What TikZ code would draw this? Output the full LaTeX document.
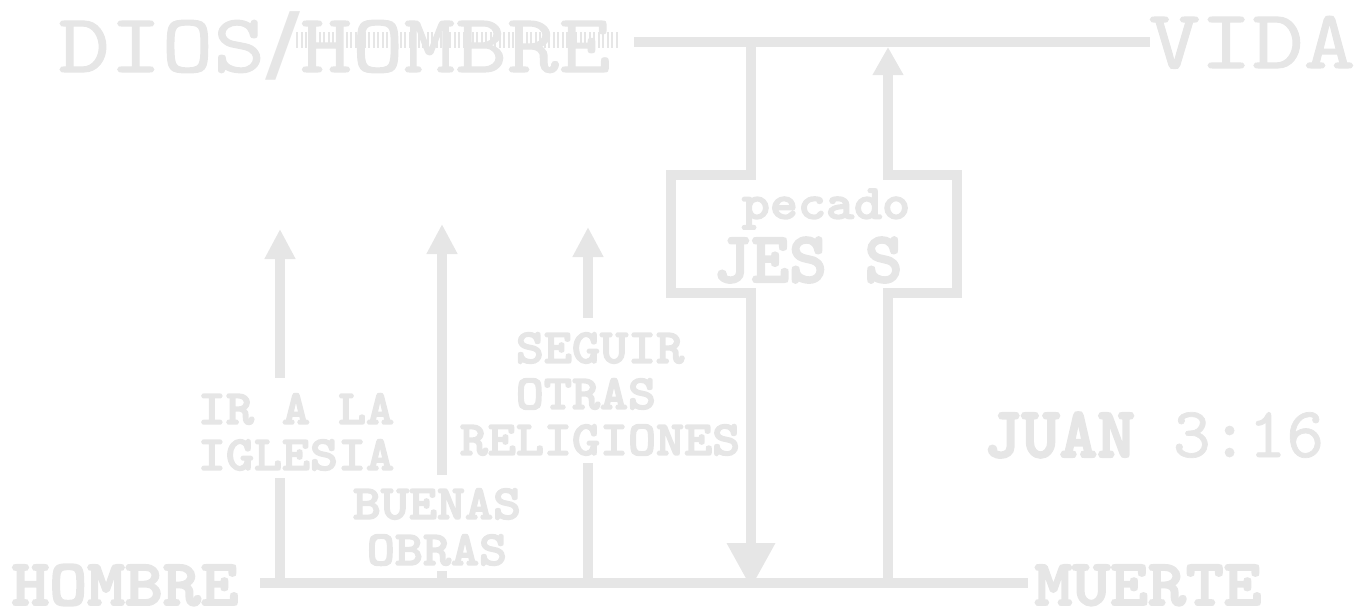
\documentclass[tikz,border=0pt]{standalone}
\usepackage{fontspec}
\setmonofont{lmmono10-regular}[Extension=.otf,BoldFont=lmmonolt10-bold,BoldFeatures={FakeBold=3},FakeBold=1]
\newfontfamily\headfont{lmmono10-regular}[Extension=.otf,FakeStretch=1.18,FakeBold=1.2]
\newfontfamily\labfont{lmmonolt10-bold}[Extension=.otf,FakeBold=3,FakeStretch=1.09]
\newfontfamily\endfont{lmmonolt10-bold}[Extension=.otf,FakeBold=3,FakeStretch=1.1]
\newfontfamily\slashfont{DejaVu Sans}
\usepackage{tikz}
\usetikzlibrary{calc}
\usetikzlibrary{arrows.meta}
\definecolor{pale}{HTML}{E6E6E6}

\begin{document}
\begin{tikzpicture}[x=1pt,y=-1pt,
  wire/.style={draw=pale,line width=10pt},
  up/.style={-{Triangle[length=30pt,width=29pt]}},
  lbl/.style={text=pale,inner sep=0pt,align=center,font=\labfont\fontsize{49}{46}\selectfont},
  big/.style={text=pale,inner sep=0pt,font=\ttfamily\bfseries\fontsize{72}{72}\selectfont},
  ends/.style={text=pale,inner sep=0pt,font=\endfont\fontsize{65.5}{66}\selectfont},
  head/.style={text=pale,inner sep=0pt,font=\headfont\fontsize{83.5}{84}\selectfont}]
\useasboundingbox (0,0) rectangle (1363,611);

\coordinate (top_l) at (634,42);
\coordinate (top_r) at (1150,42);
\coordinate (bot_l) at (260,583);
\coordinate (bot_r) at (1028,583);

\coordinate (a_ir) at (280,583);
\coordinate (a_bo) at (442,583);
\coordinate (a_se) at (588,583);
\coordinate (a_dn) at (751,583);
\coordinate (a_up) at (888,583);
\coordinate (x_in) at (751,42);

% titles
\node[head,anchor=base west] (title) at (58,72) {DIOS{\slashfont\bfseries\scalebox{1.15}[1]{/}}HOMBRE};
\foreach \x in {297,301.5,...,619} \draw[pale,line width=2pt] (\x,32)--(\x,48);
\node[head,anchor=base] (vida) at (1252,68) {VIDA};
\node[ends,anchor=base] (hombre) at (125,605) {HOMBRE};
\node[ends,anchor=base] (muerte) at (1148,605) {MUERTE};

\draw [wire] (top_l)--(top_r);
\draw [wire] (bot_l)--(bot_r);

% ways of man
\node[lbl] (iglesia) at (296,432) {IR A LA\\IGLESIA};
\node[lbl] (obras) at (437,527) {BUENAS\\OBRAS};
\node[lbl] (religiones) at (600,394) {SEGUIR\\OTRAS\hphantom{S}\\RELIGIONES};

\draw [wire] (a_ir)--++(0,-105);
\draw [wire,up] ($(a_ir)+(0,-205)$)--($(a_ir)+(0,-354)$);
\draw [wire] (a_bo)--++(0,-12);
\draw [wire,up] ($(a_bo)+(0,-108)$)--($(a_bo)+(0,-359)$);
\draw [wire] (a_se)--++(0,-120);
\draw [wire,up] ($(a_se)+(0,-265)$)--($(a_se)+(0,-356)$);

% cross
\draw [wire,-{Triangle[length=45pt,width=46pt]}] (x_in)--++(0,133)--++(-80,0)--++(0,118)--++(80,0)--($(a_dn)+(0,5)$);
\draw [wire,-{Triangle[length=28pt,width=29pt]}] (a_up)--++(0,-290)--++(69,0)--++(0,-118)--++(-69,0)--($(x_in)+(137,5)$);
\node[lbl] (pecado) at (826,209) {pecado};
\node[big] (jesus) at (808,260) {JES S};

\node[big] (juan) at (1154,435) {JUAN {\mdseries 3:16}};
\end{tikzpicture}
\end{document}
